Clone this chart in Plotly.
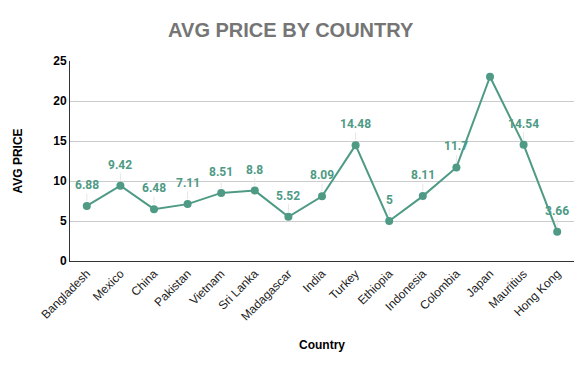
import plotly.graph_objects as go

countries = ["Bangladesh", "Mexico", "China", "Pakistan", "Vietnam", "Sri Lanka",
             "Madagascar", "India", "Turkey", "Ethiopia", "Indonesia", "Colombia",
             "Japan", "Mauritius", "Hong Kong"]
avg_price = [6.88, 9.42, 6.48, 7.11, 8.51, 8.8, 5.52, 8.09, 14.48, 5, 8.11, 11.7,
             23.03, 14.54, 3.66]
labels = ["6.88", "9.42", "6.48", "7.11", "8.51", "8.8", "5.52", "8.09", "14.48",
          "5", "8.11", "11.7", "", "14.54", "3.66"]
y_ticks = [0, 5, 10, 15, 20, 25]

color = "#4e9a85"

fig = go.Figure()
fig.add_trace(go.Scatter(
    x=countries, y=avg_price, mode="lines+markers",
    line=dict(color=color, width=2),
    marker=dict(color=color, size=8),
    hoverinfo="x+y",
))

for c, v, t in zip(countries, avg_price, labels):
    if not t:
        continue
    fig.add_annotation(
        x=c, y=v, text=t, showarrow=True, arrowhead=0, arrowwidth=1,
        arrowcolor="#e6e6e6", ax=0, ay=-21, standoff=5, yanchor="middle",
        font=dict(family="Roboto", size=12, color=color, weight="bold"),
    )

fig.update_layout(
    width=577, height=363,
    margin=dict(l=62, r=11, t=53, b=110, autoexpand=False),
    paper_bgcolor="white", plot_bgcolor="white",
    showlegend=False,
    title=dict(text="<b>AVG PRICE BY COUNTRY</b>", x=0.49, xanchor="center",
               y=0.939, yanchor="middle",
               font=dict(family="Liberation Sans, Arial", size=20, color="#757575")),
    font=dict(family="Liberation Sans, Arial", size=12, color="#222222"),
)
fig.update_xaxes(
    automargin=False, range=[-0.5, len(countries) - 0.5],
    title=dict(text="<b>Country</b>", font=dict(size=12, color="#000000"), standoff=18),
    tickangle=-45, showgrid=False, showline=True, linecolor="#333333", linewidth=1,
    tickfont=dict(size=12, color="#222222"), ticks="",
)
fig.update_yaxes(
    automargin=False,
    title=dict(text="<b>AVG PRICE</b>", font=dict(size=12, color="#000000"), standoff=28),
    range=[0, 25], tickvals=y_ticks, ticktext=[str(v) for v in y_ticks],
    showgrid=True, gridcolor="#cccccc", gridwidth=1,
    showline=True, linecolor="#333333", linewidth=1, zeroline=False,
    tickfont=dict(size=12, color="#000000", weight="bold"), ticks="",
)

fig.write_html("out.html")
